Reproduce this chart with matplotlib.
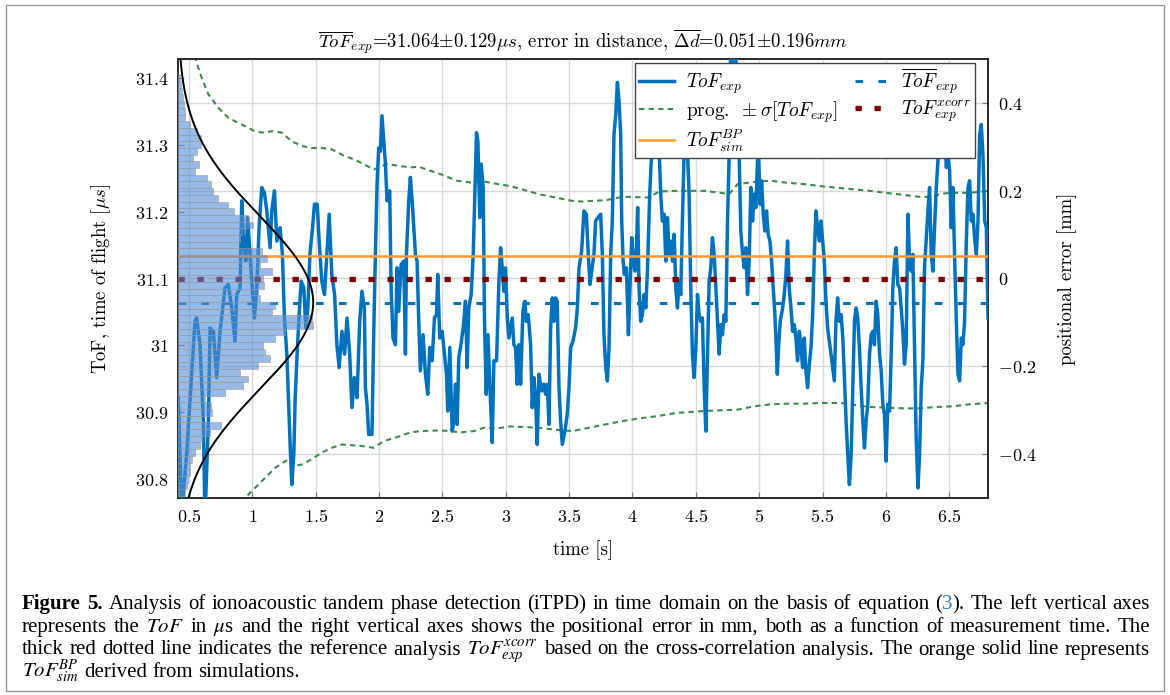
import numpy as np
import matplotlib
matplotlib.use('Agg')
import matplotlib.pyplot as plt
from matplotlib.patches import Rectangle
from matplotlib.ticker import FuncFormatter

plt.rcParams['mathtext.fontset'] = 'cm'

time_s = [0.415, 0.442, 0.481, 0.547, 0.560, 0.587, 0.613, 0.626, 0.653, 0.666,
          0.692, 0.718, 0.745, 0.784, 0.811, 0.837, 0.863, 0.876, 0.903, 0.916,
          0.929, 0.948, 0.963, 0.990, 1.016, 1.035, 1.053, 1.074, 1.095, 1.114,
          1.140, 1.153, 1.174, 1.193, 1.219, 1.237, 1.253, 1.272, 1.298, 1.311,
          1.327, 1.338, 1.353, 1.369, 1.385, 1.406, 1.422, 1.438, 1.454, 1.475,
          1.490, 1.512, 1.527, 1.548, 1.569, 1.588, 1.606, 1.627, 1.649, 1.667,
          1.685, 1.707, 1.728,
          1.747, 1.768, 1.786, 1.805, 1.826, 1.847, 1.865, 1.884, 1.892, 1.905,
          1.918, 1.944, 1.958, 1.971, 1.984, 1.997, 2.010, 2.023, 2.037, 2.050,
          2.063, 2.084, 2.095, 2.110, 2.129, 2.142, 2.155, 2.174, 2.195, 2.208,
          2.216, 2.234, 2.247, 2.261, 2.274, 2.287, 2.300, 2.313, 2.326, 2.347,
          2.366, 2.384, 2.400, 2.419, 2.437, 2.453, 2.463, 2.479, 2.498, 2.516,
          2.532, 2.542, 2.558, 2.577, 2.590, 2.603, 2.616, 2.629, 2.643, 2.664,
          2.682, 2.695, 2.708, 2.727, 2.743, 2.756, 2.769, 2.780, 2.795, 2.806,
          2.822, 2.832, 2.846, 2.859, 2.875, 2.893, 2.906, 2.927, 2.946, 2.959,
          2.972, 2.985, 2.998, 3.012, 3.025,
          3.051, 3.064, 3.077, 3.090, 3.103, 3.117, 3.135, 3.151, 3.161, 3.177,
          3.196, 3.209, 3.222, 3.235, 3.248, 3.262, 3.283, 3.301, 3.314, 3.327,
          3.341, 3.354, 3.367, 3.380, 3.393, 3.406, 3.420, 3.433, 3.446, 3.467,
          3.485, 3.499, 3.512, 3.530, 3.551, 3.565, 3.578, 3.599, 3.617, 3.636,
          3.651, 3.665, 3.678, 3.696, 3.709, 3.728, 3.749, 3.762, 3.775, 3.789,
          3.802, 3.815, 3.828, 3.841, 3.854, 3.868, 3.881, 3.894, 3.907, 3.915,
          3.926, 3.936, 3.952, 3.968, 3.978, 3.994, 4.007, 4.020, 4.031, 4.041,
          4.052, 4.065, 4.078, 4.092, 4.105, 4.118, 4.136, 4.147, 4.157, 4.178,
          4.205, 4.223, 4.236, 4.250, 4.263, 4.276, 4.289, 4.302, 4.316, 4.329,
          4.342, 4.355, 4.368, 4.381, 4.394, 4.407, 4.421, 4.434, 4.447, 4.460,
          4.473, 4.486, 4.500, 4.513, 4.526, 4.539, 4.552, 4.566, 4.579, 4.592,
          4.605, 4.618, 4.631, 4.645, 4.658, 4.671, 4.684, 4.697, 4.710, 4.724,
          4.737, 4.750, 4.763, 4.776, 4.795, 4.812, 4.829, 4.842, 4.855, 4.869,
          4.882, 4.895, 4.908, 4.921, 4.934, 4.948, 4.961, 4.974, 4.992, 5.008,
          5.019, 5.032, 5.045, 5.058, 5.071, 5.085, 5.098, 5.111, 5.124, 5.135,
          5.143, 5.153, 5.166, 5.185, 5.198, 5.211, 5.224, 5.237, 5.251, 5.264,
          5.277, 5.290, 5.303, 5.317, 5.330, 5.343, 5.356, 5.369, 5.382, 5.396,
          5.409, 5.422, 5.435, 5.448, 5.461, 5.475, 5.488, 5.501, 5.514, 5.527,
          5.540, 5.554, 5.567, 5.580, 5.593, 5.606, 5.619,
          5.633, 5.647, 5.660, 5.673, 5.686, 5.699, 5.712, 5.726, 5.739, 5.752,
          5.765, 5.778, 5.791, 5.805, 5.818, 5.831, 5.844, 5.857, 5.871, 5.884,
          5.897, 5.910, 5.923, 5.936, 5.950, 5.963, 5.976, 5.989, 6.002, 6.015,
          6.029, 6.042, 6.055, 6.068, 6.081, 6.094, 6.108, 6.121, 6.134, 6.147,
          6.160, 6.174, 6.187, 6.200, 6.213, 6.226, 6.239, 6.253, 6.266, 6.279,
          6.292, 6.305, 6.318, 6.332, 6.345, 6.358, 6.371, 6.384, 6.398, 6.411,
          6.424, 6.437, 6.450, 6.463, 6.477, 6.490, 6.503, 6.516, 6.529, 6.542,
          6.556, 6.569, 6.582, 6.595, 6.608, 6.621, 6.635, 6.648, 6.661, 6.674,
          6.687, 6.700, 6.714, 6.727, 6.740, 6.753, 6.766, 6.780, 6.793, 6.806]
tof_us = [30.922, 30.750, 30.837, 31.036, 31.041, 31.001, 30.887, 30.740, 30.887, 31.026,
          31.021, 30.952, 31.021, 31.086, 31.091, 31.056, 31.006, 31.076, 31.086, 31.216,
          31.156, 31.126, 31.191, 31.111, 31.041, 31.086, 31.176, 31.236, 31.228, 31.201,
          31.146, 31.201, 31.231, 31.156, 31.176, 31.136, 31.041, 30.987, 30.852, 30.792,
          30.837, 30.922, 30.987, 31.046, 31.096, 31.086, 31.026, 31.056, 31.136, 31.176,
          31.211, 31.211, 31.156, 31.096, 31.076, 31.136, 31.196, 31.106, 31.076, 31.001,
          30.967, 31.021, 30.987,
          31.041, 30.987, 30.907, 30.952, 30.922, 31.036, 31.081, 31.056, 30.937, 30.912,
          30.867, 30.867, 31.021, 31.136, 31.241, 31.295, 31.290, 31.343, 31.305, 31.271,
          31.216, 31.231, 31.086, 31.011, 31.001, 31.116, 31.051, 31.121, 31.126, 30.987,
          31.136, 31.216, 31.251, 31.216, 31.176, 31.136, 31.126, 31.036, 30.962, 31.016,
          30.957, 30.927, 30.997, 30.977, 31.041, 31.046, 31.106, 31.011, 31.021, 30.987,
          30.957, 30.902, 30.997, 30.872, 30.887, 30.942, 30.882, 30.982, 30.997, 31.026,
          31.066, 30.967, 31.056, 31.076, 31.136, 31.226, 31.318, 31.305, 31.191, 31.271,
          31.236, 31.036, 30.927, 31.016, 30.937, 30.855, 30.977, 30.977, 31.096, 31.146,
          31.116, 31.081, 31.116, 31.041, 31.011,
          31.041, 31.001, 30.997, 30.942, 31.001, 30.942, 31.051, 31.066, 31.036, 31.046,
          31.001, 30.907, 30.952, 30.922, 30.852, 30.957, 30.932, 30.942, 30.927, 30.942,
          30.882, 31.026, 31.071, 31.036, 31.071, 31.066, 30.937, 30.887, 30.852, 30.872,
          30.897, 30.937, 30.997, 31.006, 31.026, 31.056, 31.116, 31.141, 31.201, 31.196,
          31.136, 31.091, 31.111, 31.136, 31.186, 31.191, 31.196, 31.136, 31.016, 30.967,
          30.947, 30.997, 31.136, 31.186, 31.315, 31.345, 31.393, 31.365, 31.315, 31.186,
          31.126, 31.106, 31.116, 31.016, 31.076, 31.161, 31.126, 31.111, 31.146, 31.206,
          31.086, 31.036, 31.046, 31.076, 31.056, 31.111, 31.226, 31.271, 31.295, 31.335,
          31.320, 31.226, 31.186, 31.196, 31.126, 31.191, 31.136, 31.156, 31.126, 31.166,
          31.086, 31.056, 31.096, 31.076, 31.186, 31.285, 31.325, 31.290, 31.226, 31.086,
          30.987, 30.952, 30.997, 31.076, 31.046, 31.036, 31.041, 30.937, 30.872, 30.987,
          31.096, 31.116, 31.161, 31.136, 31.086, 31.036, 30.987, 31.031, 31.016, 31.046,
          31.036, 31.186, 31.285, 31.460, 31.420, 31.460, 31.335, 31.285, 31.171, 31.136,
          31.116, 31.146, 31.076, 31.126, 31.236, 31.186, 31.226, 31.206, 31.305, 31.211,
          31.246, 31.196, 31.171, 31.201, 31.166, 31.156, 31.126, 31.086, 31.046, 30.997,
          30.957, 30.997, 31.036, 31.056, 31.076, 31.106, 31.156, 31.086, 31.056, 31.021,
          31.031, 31.011, 30.977, 31.021, 30.997, 30.967, 31.011, 30.962, 30.937, 30.972,
          30.997, 31.046, 31.136, 31.201, 31.176, 31.156, 31.186, 31.156, 31.126, 31.066,
          31.026, 31.006, 30.987, 30.967, 30.947, 31.036, 31.071,
          31.036, 31.046, 31.011, 30.952, 30.887, 30.837, 30.792, 30.837, 30.937, 31.036,
          31.056, 31.041, 30.997, 30.937, 30.887, 30.847, 30.887, 30.912, 30.987, 31.016,
          31.021, 31.001, 31.066, 31.046, 30.987, 30.962, 30.912, 30.897, 30.827, 30.912,
          30.902, 30.987, 31.086, 31.126, 31.146, 31.091, 31.086, 31.056, 31.021, 30.972,
          31.001, 31.196, 31.126, 31.111, 31.136, 30.997, 30.862, 30.787, 30.837, 30.937,
          30.977, 31.116, 31.156, 31.201, 31.236, 31.136, 31.111, 31.176, 31.236, 31.276,
          31.305, 31.335, 31.295, 31.320, 31.266, 31.285, 31.261, 31.176, 31.236, 31.136,
          31.036, 30.957, 30.947, 31.011, 31.001, 31.036, 31.156, 31.236, 31.246, 31.186,
          31.196, 31.161, 31.136, 31.186, 31.315, 31.330, 31.285, 31.186, 31.176, 31.041]

# progressive +/- sigma band
band_up_t = [0.494, 0.547, 0.600, 0.653, 0.732, 0.811, 0.916, 1.021, 1.074, 1.153,
             1.232, 1.311, 1.390, 1.469, 1.548, 1.627, 1.707, 1.826, 1.958, 1.997,
             2.063, 2.168, 2.247, 2.313, 2.405, 2.484, 2.616, 2.748, 2.801, 2.880,
             3.038, 3.262, 3.393, 3.525, 3.604, 3.683, 3.789, 3.894, 3.973, 4.131,
             4.210, 4.342, 4.566, 4.697, 4.763, 4.829, 4.908, 4.987, 5.093, 5.224,
             5.356, 5.488, 5.646, 5.871, 6.002, 6.134, 6.266, 6.371, 6.424, 6.503,
             6.661, 6.806]
band_up = [31.460, 31.430, 31.400, 31.375, 31.355, 31.340, 31.330, 31.320, 31.318, 31.320,
           31.318, 31.305, 31.298, 31.295, 31.295, 31.293, 31.285, 31.276, 31.263, 31.266,
           31.271, 31.268, 31.266, 31.267, 31.261, 31.256, 31.246, 31.243, 31.246, 31.243,
           31.238, 31.226, 31.221, 31.216, 31.215, 31.216, 31.217, 31.221, 31.222, 31.221,
           31.230, 31.231, 31.231, 31.228, 31.226, 31.241, 31.243, 31.245, 31.246, 31.243,
           31.241, 31.238, 31.235, 31.231, 31.228, 31.225, 31.222, 31.222, 31.226, 31.228,
           31.228, 31.231]
band_lo_t = [0.903, 0.942, 1.021, 1.100, 1.179, 1.259, 1.298, 1.338, 1.390, 1.469,
             1.548, 1.627, 1.707, 1.852, 1.958, 2.037, 2.142, 2.247, 2.326, 2.484,
             2.564, 2.643, 2.748, 2.827, 2.932, 3.038, 3.262, 3.393, 3.525, 3.657,
             3.789, 3.920, 4.052, 4.184, 4.342, 4.566, 4.697, 4.829, 4.961, 5.093,
             5.224, 5.356, 5.488, 5.646, 5.871, 6.002, 6.134, 6.266, 6.398, 6.529,
             6.661, 6.806]
band_lo = [30.750, 30.772, 30.787, 30.802, 30.817, 30.827, 30.830, 30.820, 30.822, 30.830,
           30.840, 30.847, 30.852, 30.850, 30.847, 30.857, 30.863, 30.870, 30.872, 30.873,
           30.872, 30.870, 30.872, 30.877, 30.876, 30.879, 30.877, 30.874, 30.872, 30.877,
           30.882, 30.887, 30.891, 30.894, 30.899, 30.902, 30.903, 30.904, 30.909, 30.912,
           30.913, 30.913, 30.914, 30.914, 30.908, 30.907, 30.906, 30.906, 30.908, 30.909,
           30.912, 30.914]

tof_mean = 31.064
tof_std = 0.129
tof_xcorr = 31.100
tof_sim_bp = 31.133
tof_at_zero_mm = 31.100
mm_per_us = 1.5244

# histogram of ToF values, bins of 0.01 us from 31.40 downwards
hist_counts = [2, 3, 4, 5, 6, 7, 7, 12, 19, 23, 23, 19, 15, 21, 17, 29, 33, 35, 40, 50,
               56, 70, 75, 64, 62, 60, 84, 89, 82, 94, 85, 86, 80, 82, 97, 94, 134, 135,
               107, 97, 85, 87, 92, 80, 62, 70, 65, 47, 27, 33, 34, 22, 43, 32, 24, 22,
               17, 14, 12, 12, 10, 9, 7]
hist_top = 31.405
bin_w = 0.01
gauss_peak = 135   # same units as hist_counts

t_min, t_max = 0.413, 6.806
y_lo, y_hi = 30.772, 31.428
count_to_s = 1 / 126.5

c_blue = '#0072BD'
c_green = '#3B8B4B'
c_orange = '#FF9A2E'
c_red = '#7F0000'

fig = plt.figure(figsize=(11.7, 6.95), dpi=100)
ax = fig.add_axes([178 / 1170, 1 - 498 / 695, 810 / 1170, 439 / 695])
ax2 = ax.twinx()
ax.set_zorder(ax2.get_zorder() + 1)
ax.patch.set_visible(False)
ax2.patch.set_visible(True)
ax2.patch.set_facecolor('white')

ax.plot(band_up_t, band_up, color=c_green, lw=1.5, ls=(0, (2.6, 2.0)), zorder=2,
        label=r'$\mathrm{prog.}\ \pm\sigma[ToF_{exp}]$')
ax.plot(band_lo_t, band_lo, color=c_green, lw=1.5, ls=(0, (2.6, 2.0)), zorder=2)
ax.plot(time_s, tof_us, color=c_blue, lw=2.5, zorder=3, label=r'$ToF_{exp}$')
ax.axhline(tof_sim_bp, color=c_orange, lw=1.8, zorder=4, label=r'$ToF_{sim}^{BP}$')
ax.axhline(tof_mean, color=c_blue, lw=2.2, ls=(0, (2.5, 5.0)), zorder=4,
           label=r'$\overline{ToF}_{exp}$')
ax.axhline(tof_xcorr, color=c_red, lw=3.8, ls=(0, (1.2, 2.4)), zorder=4,
           label=r'$ToF_{exp}^{xcorr}$')

centres = hist_top - bin_w / 2 - bin_w * np.arange(len(hist_counts))
ax.barh(centres, np.array(hist_counts) * count_to_s, height=bin_w, left=t_min,
        color=(0.33, 0.55, 0.84, 0.6), edgecolor=(0.6, 0.6, 0.6, 0.55), lw=0.7, zorder=5)

yy = np.linspace(y_lo - 0.01, y_hi + 0.01, 400)
gx = t_min + gauss_peak * count_to_s * np.exp(-0.5 * ((yy - tof_mean) / tof_std) ** 2)
ax.plot(gx, yy, color='black', lw=1.4, zorder=6)

ax.set_xlim(t_min, t_max)
ax.set_ylim(y_lo, y_hi)
ax2.set_ylim((y_lo - tof_at_zero_mm) * mm_per_us, (y_hi - tof_at_zero_mm) * mm_per_us)

ax.set_xticks([0.5, 1, 1.5, 2, 2.5, 3, 3.5, 4, 4.5, 5, 5.5, 6, 6.5])
ax.set_yticks([30.8, 30.9, 31.0, 31.1, 31.2, 31.3, 31.4])
ax2.set_yticks([-0.4, -0.2, 0, 0.2, 0.4])
fmt = FuncFormatter(lambda v, p: '$%g$' % round(v, 3))
ax.xaxis.set_major_formatter(fmt)
ax.yaxis.set_major_formatter(fmt)
ax2.yaxis.set_major_formatter(fmt)

ax.grid(axis='x', color='#d8d8d8', lw=1.0)
ax2.grid(axis='y', color='#d8d8d8', lw=1.0)
ax.set_axisbelow(True)
for a in (ax, ax2):
    a.tick_params(direction='in', labelsize=13, color='#777777', length=4, pad=7)
    for s in a.spines.values():
        s.set_color('#222222')
        s.set_linewidth(1.1)

ax.set_ylabel(r'ToF, time of flight [$\mu s$]', fontsize=13.5, family='cmr10')
ax.yaxis.set_label_coords(-0.080, 0.5)
ax.set_xlabel('time [s]', fontsize=13.5, family='cmr10')
ax.xaxis.set_label_coords(0.5, -0.096)
ax2.set_ylabel('positional error [mm]', fontsize=13.5, family='cmr10')
ax2.yaxis.set_label_coords(1.086, 0.5)

leg = ax.legend(handles=[ax.lines[2], ax.lines[0], ax.lines[3], ax.lines[4], ax.lines[5]],
                ncol=2, loc='upper right', bbox_to_anchor=(0.984, 0.991), borderaxespad=0,
                fancybox=False, framealpha=1, edgecolor='#444444', handlelength=1.8,
                handletextpad=0.6, columnspacing=0.9, labelspacing=0.15, borderpad=0.2,
                prop={'family': 'cmr10', 'size': 14})
leg.get_frame().set_linewidth(1.0)
leg.set_zorder(10)

fig.text(583 / 1170, 1 - 42 / 695,
         r'$\overline{ToF}_{exp}$=31.064$\pm$0.129$\mu s$, error in distance, '
         r'$\overline{\Delta d}$=0.051$\pm$0.196$mm$',
         ha='center', va='center', fontsize=13.5, family='cmr10')

# frame and caption
fig.add_artist(Rectangle((6 / 1170, 4 / 695), 1158 / 1170, 686 / 695, transform=fig.transFigure,
                         fill=False, edgecolor='#999999', lw=1.0))
cap = dict(fontsize=15, family='Liberation Serif', math_fontfamily='stix', va='baseline')
renderer = fig.canvas.get_renderer()
x0 = 22 / 1170
x1 = 1150 / 1170


def words(s, extra=None):
    return [[(w, extra or {})] for w in s.split()]


def text_w(t):
    return t.get_window_extent(renderer=renderer).width / fig.bbox.width


a = fig.text(0, 0, 'a a', **cap)
b = fig.text(0, 0, 'aa', **cap)
space = text_w(a) - text_w(b)
a.remove()
b.remove()


def put_line(y, tokens, justify=True):
    placed = []
    for tok in tokens:
        parts, w = [], 0
        for s, extra in tok:
            kw = dict(cap)
            kw.update(extra)
            t = fig.text(0, y, s, **kw)
            parts.append((t, w))
            w += text_w(t)
        placed.append((parts, w))
    total = sum(w for _, w in placed)
    gap = (x1 - x0 - total) / (len(placed) - 1) if justify else space
    x = x0
    for parts, w in placed:
        for t, off in parts:
            t.set_x(x + off)
        x += w + gap


bold = {'fontweight': 'bold'}
put_line(1 - 609 / 695,
         [[('Figure', bold)], [('5.', bold)]]
         + words('Analysis of ionoacoustic tandem phase detection (iTPD) in time domain on the basis of equation')
         + [[('(', {}), ('3', {'color': '#2B7BBA'}), (').', {})]]
         + words('The left vertical axes'))
put_line(1 - 632 / 695,
         words('represents the') + [[('$ToF$', {})]] + words('in') + [[(r'$\mu$s', {})]]
         + words('and the right vertical axes shows the positional error in mm, both as a function '
                 'of measurement time. The'))
put_line(1 - 654.5 / 695,
         words('thick red dotted line indicates the reference analysis') + [[(r'$ToF_{exp}^{xcorr}$', {})]]
         + words('based on the cross-correlation analysis. The orange solid line represents'))
put_line(1 - 677 / 695,
         [[(r'$ToF_{sim}^{BP}$', {})]] + words('derived from simulations.'), justify=False)

fig.savefig('out.png', dpi=100)
